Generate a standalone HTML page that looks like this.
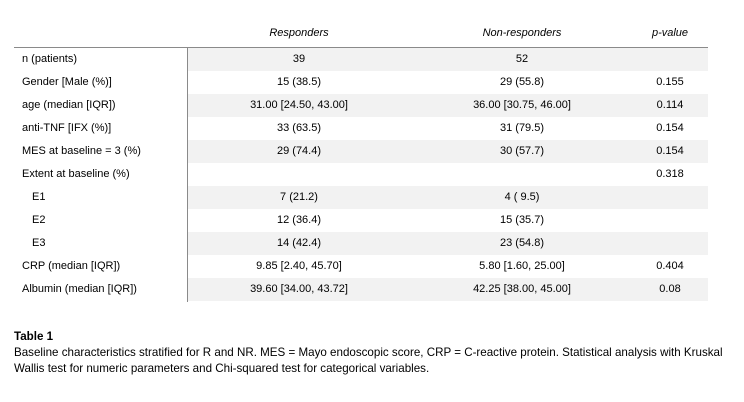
<!DOCTYPE html>
<html><head><meta charset="utf-8"><style>
body{margin:0;width:744px;height:402px;background:#fff;font-family:"Liberation Sans",sans-serif;font-size:11px;color:#000;position:relative;overflow:hidden}
.a{position:absolute;white-space:nowrap}
.row{position:absolute;left:14px;width:694px;height:23px}
.sh{background:#f2f2f2}
.c{position:absolute;top:5px;transform:translateX(-50%)}
.l{position:absolute;top:5px;left:8px}
.hd{font-style:italic;top:27px}
.cap{font-size:11.6px}
</style></head><body>
<div class="a hd" style="left:299px;transform:translateX(-50%)">Responders</div>
<div class="a hd" style="left:522px;transform:translateX(-50%)">Non-responders</div>
<div class="a hd" style="left:670px;transform:translateX(-50%)">p-value</div>
<div id="rows"></div>
<div class="a" style="left:14px;top:47px;width:694px;height:1px;background:#8a8a8a"></div>
<div class="a" style="left:187px;top:48px;width:1px;height:254px;background:#8a8a8a"></div>
<div class="a cap" style="left:14px;top:330px;font-weight:bold">Table 1</div>
<div class="a cap" style="left:14px;top:346px">Baseline characteristics stratified for R and NR. MES = Mayo endoscopic score, CRP = C-reactive protein. Statistical analysis with Kruskal</div>
<div class="a cap" style="left:14px;top:362px">Wallis test for numeric parameters and Chi-squared test for categorical variables.</div>
<script>
const labels=["n (patients)","Gender [Male (%)]","age (median [IQR])","anti-TNF [IFX (%)]","MES at baseline = 3 (%)","Extent at baseline (%)","  E1","  E2","  E3","CRP (median [IQR])","Albumin (median [IQR])"];
const responders=["39","15 (38.5)","31.00 [24.50, 43.00]","33 (63.5)","29 (74.4)","","7 (21.2)","12 (36.4)","14 (42.4)","9.85 [2.40, 45.70]","39.60 [34.00, 43.72]"];
const nonResponders=["52","29 (55.8)","36.00 [30.75, 46.00]","31 (79.5)","30 (57.7)","","4 ( 9.5)","15 (35.7)","23 (54.8)","5.80 [1.60, 25.00]","42.25 [38.00, 45.00]"];
const pValues=["","0.155","0.114","0.154","0.154","0.318","","","","0.404","0.08"];
const host=document.getElementById('rows');
labels.forEach((lab,i)=>{
 const r=document.createElement('div');
 r.className='row';
 r.style.top=(48+i*23)+'px';
 
 
 if(i%2===0){const s=document.createElement('div');s.className='sh';s.style.cssText='position:absolute;left:174px;right:0;top:0;bottom:0';
 
 
 r.appendChild(s);}
 const l=document.createElement('div');l.className='l';l.textContent=lab.trim();
 if(lab.startsWith('  '))l.style.left='18px';
 
 
 r.appendChild(l);
 [[responders[i],285,'responders-cell'],[nonResponders[i],508,'non-responders-cell'],[pValues[i],656,'p-value-cell']].forEach(([t,x,n])=>{
  const c=document.createElement('div');c.className='c';c.style.left=x+'px';c.textContent=t;
  
  
  r.appendChild(c);
 });
 host.appendChild(r);
});
</script>
</body></html>
